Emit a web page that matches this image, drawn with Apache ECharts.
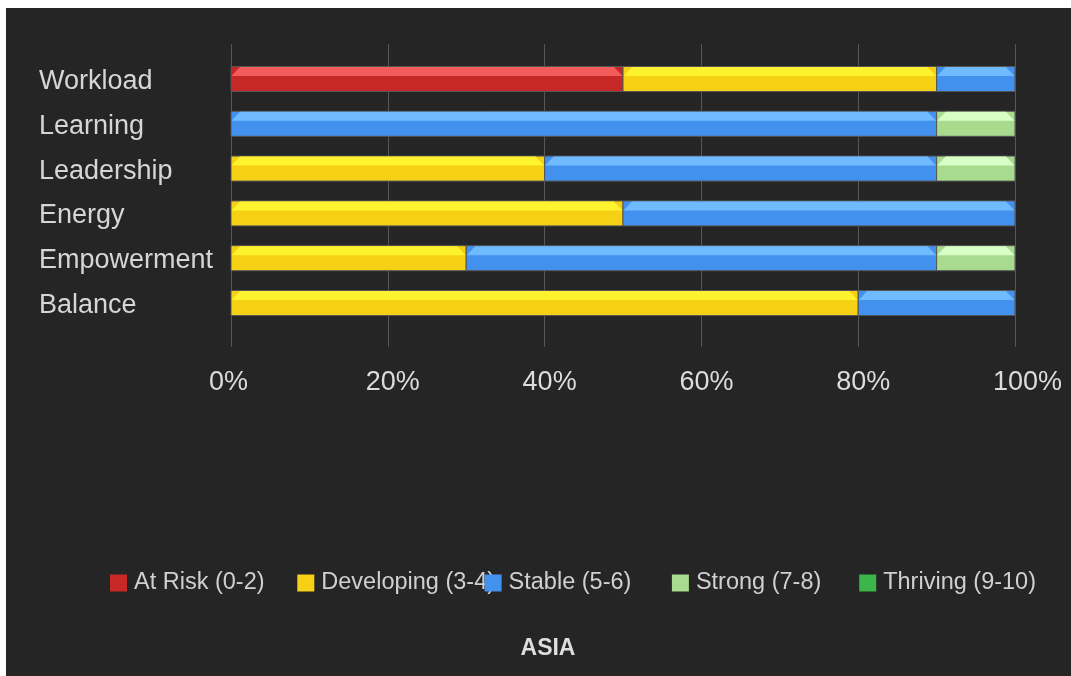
<!DOCTYPE html>
<html>
<head>
<meta charset="utf-8">
<script src="https://cdn.jsdelivr.net/npm/echarts@6/dist/echarts.min.js"></script>
<style>
  html, body { margin: 0; padding: 0; background: #ffffff; width: 1071px; height: 676px; overflow: hidden; }
  #chart { position: absolute; left: 6px; top: 8px; width: 1065px; height: 668px; background: #252525; }
</style>
</head>
<body>
<div id="chart"></div>
<script>
// Wellbeing dimensions and share of respondents in each score band (percent)
const categories = ['Workload', 'Learning', 'Leadership', 'Energy', 'Empowerment', 'Balance'];
const levelNames = ['At Risk (0-2)', 'Developing (3-4)', 'Stable (5-6)', 'Strong (7-8)', 'Thriving (9-10)'];
const atRisk     = [50, 0, 0, 0, 0, 0];
const developing = [40, 0, 40, 50, 30, 80];
const stable     = [10, 90, 50, 50, 60, 20];
const strong     = [0, 10, 10, 0, 10, 0];
const thriving   = [0, 0, 0, 0, 0, 0];
const xTicks     = [0, 20, 40, 60, 80, 100];
const regionName = 'ASIA';

const levelValues = [atRisk, developing, stable, strong, thriving];
const baseColors  = ['#c62828', '#f5d015', '#4391ee', '#a9db8e', '#3cb54a'];
const lightColors = ['#f25c5c', '#fff22e', '#70bbff', '#d8ffc6', '#6fe27a'];

const FONT = '"Liberation Sans", Arial, sans-serif';

// running start offsets so each band stacks after the previous one
const starts = categories.map(() => 0);
const series = levelValues.map((vals, li) => {
  const data = vals.map((v, ci) => {
    const item = [v, ci, starts[ci]];
    starts[ci] += v;
    return item;
  });
  return {
    type: 'custom',
    name: levelNames[li],
    xAxisIndex: 1,
    yAxisIndex: 1,
    itemStyle: { color: baseColors[li] },
    encode: { x: [0, 2], y: 1 },
    data: data,
    renderItem: function (params, api) {
      const v = api.value(0);
      if (!v) return;
      const idx = api.value(1);
      const start = api.value(2);
      const a = api.coord([start, idx]);
      const b = api.coord([start + v, idx]);
      const h = 25;
      const y0 = a[1] - h / 2;
      const x0 = a[0], x1 = b[0];
      const hh = 9.5;
      const s = Math.min(9, (x1 - x0) / 2);
      return {
        type: 'group',
        children: [
          {
            type: 'rect',
            shape: { x: x0, y: y0, width: x1 - x0, height: h },
            style: { fill: baseColors[li], stroke: '#555555', lineWidth: 1 }
          },
          {
            type: 'polygon',
            shape: { points: [[x0 + s, y0 + 0.5], [x1 - s, y0 + 0.5], [x1 - 0.5, y0 + hh], [x0 + 0.5, y0 + hh]] },
            style: { fill: lightColors[li] }
          }
        ]
      };
    }
  };
});

// one legend block per band, placed at a fixed pitch
const legends = levelNames.map((name, i) => ({
  left: 99 + i * 187.3,
  top: 558,
  itemWidth: 17,
  itemHeight: 17,
  itemGap: 0,
  icon: 'rect',
  selectedMode: false,
  data: [name],
  textStyle: { color: '#d0d0d0', fontSize: 23.5, fontFamily: FONT, padding: [0, 0, 0, 2] }
}));

const chart = echarts.init(document.getElementById('chart'), null, { renderer: 'canvas' });
chart.setOption({
  backgroundColor: '#252525',
  animation: false,
  textStyle: { fontFamily: FONT },
  title: {
    text: regionName,
    left: 537,
    top: 624,
    textAlign: 'center',
    textStyle: { color: '#dedede', fontSize: 23, fontWeight: 'bold', fontFamily: FONT }
  },
  legend: legends,
  grid: [
    // gridlines
    { left: 225, top: 36, width: 784, height: 303 },
    // bars
    { left: 225, top: 48.6, width: 784, height: 268.8 },
    // tick labels (left aligned a little before each gridline)
    { left: 203, top: 36, width: 784, height: 303 }
  ],
  xAxis: [
    {
      gridIndex: 0, type: 'value', min: 0, max: 100, interval: 20,
      axisLine: { show: false }, axisTick: { show: false }, axisLabel: { show: false },
      splitLine: { show: true, lineStyle: { color: '#575757', width: 1 } }
    },
    {
      gridIndex: 1, type: 'value', min: 0, max: 100, interval: 20,
      axisLine: { show: false }, axisTick: { show: false }, axisLabel: { show: false },
      splitLine: { show: false }
    },
    {
      gridIndex: 2, type: 'value', min: 0, max: 100, interval: 20,
      axisLine: { show: false }, axisTick: { show: false }, splitLine: { show: false },
      axisLabel: {
        show: true, margin: 22, align: 'left',
        color: '#dcdcdc', fontSize: 27, fontFamily: FONT,
        formatter: function (v) { return xTicks.indexOf(v) >= 0 ? v + '%' : ''; }
      }
    }
  ],
  yAxis: [
    { gridIndex: 0, type: 'value', min: 0, max: 1, show: false },
    {
      gridIndex: 1, type: 'category', data: categories, inverse: true,
      axisLine: { show: false }, axisTick: { show: false }, splitLine: { show: false },
      axisLabel: { margin: 192, align: 'left', color: '#d6d6d6', fontSize: 27, fontFamily: FONT, lineHeight: 31, verticalAlign: 'top', padding: [-13, 0, 0, 0] }
    },
    { gridIndex: 2, type: 'value', min: 0, max: 1, show: false }
  ],
  series: series
});
</script>
</body>
</html>
